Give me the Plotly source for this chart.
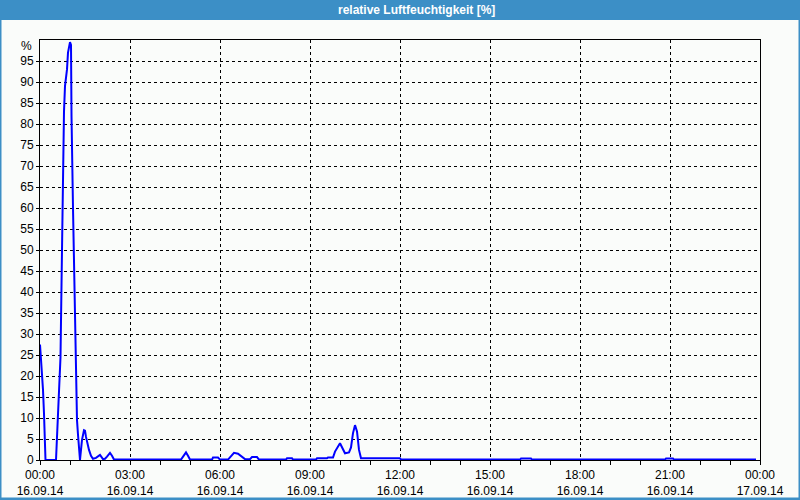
import pandas as pd
import plotly.graph_objects as go

# minutes after 16.09.14 00:00 and relative humidity [%]
minutes = [0, 2, 4, 6, 8, 10, 11, 32, 34, 36, 38, 41, 44, 46, 48, 50, 52, 54, 56, 58,
           60, 62, 63, 66, 68, 70, 72, 74, 76, 78, 80, 82, 84, 88, 90, 92, 94, 98, 102,
           106, 112, 116, 120, 126, 130, 134, 140, 144, 148,
           282, 288, 292, 296, 300, 344, 346, 356, 360, 376, 382, 388, 396, 402, 410,
           420, 424, 434, 438, 492, 494, 504, 506, 552, 554, 574, 576, 586, 590, 600,
           606, 610, 618, 622, 626, 630, 634, 638, 642, 720, 722,
           960, 962, 982, 984, 1250, 1252, 1266, 1268, 1432]
values = [27.5, 24, 22, 16.7, 11, 5.5, 0, 0, 5.5, 10, 17, 24.5, 50, 74, 83, 89, 90.5, 93, 97, 99,
          99.5, 98.8, 82, 60, 45, 31, 15, 9.5, 6, 3, 0, 2.4, 4.8, 7.1, 7, 5.5, 4.3, 2.4, 1,
          0.3, 0.5, 0.9, 1.2, 0.2, 0.3, 0.8, 1.7, 1, 0.1,
          0.1, 1.2, 1.8, 1.0, 0.1, 0.1, 0.6, 0.6, 0.1, 0.1, 1.0, 1.7, 1.5, 1.0, 0.2,
          0.2, 0.7, 0.7, 0.1, 0.1, 0.4, 0.4, 0.1, 0.1, 0.4, 0.4, 0.6, 0.6, 2, 4,
          2.5, 1.6, 1.8, 3, 6.4, 8.3, 6.8, 2.4, 0.4, 0.4, 0.1,
          0.1, 0.35, 0.35, 0.1, 0.1, 0.35, 0.35, 0.1, 0.1]

tick_times = ["00:00", "03:00", "06:00", "09:00", "12:00", "15:00", "18:00", "21:00", "00:00"]
tick_dates = ["16.09.14"] * 8 + ["17.09.14"]
y_ticks = list(range(0, 100, 5))
y_unit = "%"
title = "relative Luftfeuchtigkeit [%]"

start = pd.Timestamp("2014-09-16 00:00")
x = [start + pd.Timedelta(minutes=m) for m in minutes]
tickvals = [start + pd.Timedelta(hours=3 * i) for i in range(len(tick_times))]
ticktext = [f"{t}<br>{d}" for t, d in zip(tick_times, tick_dates)]

BLUE = "#3c8fc6"
BG = "#fafcfa"
FONT = "Liberation Sans, DejaVu Sans, sans-serif"

fig = go.Figure()
fig.add_trace(go.Scatter(x=x, y=values, mode="lines",
                         line=dict(color="#0000ff", width=2), hoverinfo="skip"))

fig.update_layout(
    width=800, height=500,
    margin=dict(l=40, r=40, t=40, b=40, autoexpand=False),
    paper_bgcolor=BG, plot_bgcolor=BG,
    showlegend=False,
    font=dict(family=FONT, size=12, color="black"),
    xaxis=dict(
        range=[start, start + pd.Timedelta(hours=24)],
        tickvals=tickvals, ticktext=ticktext, automargin=False,
        showline=True, linecolor="black", linewidth=1, mirror=True,
        showgrid=True, gridcolor="black", gridwidth=1, griddash="3px,3px",
        ticks="outside", ticklen=4, tickcolor="black",
        minor=dict(dtick=3600000, tick0=start, ticks="outside", ticklen=4,
                   tickcolor="black", showgrid=False),
        zeroline=False,
    ),
    yaxis=dict(
        range=[0, 100], automargin=False,
        tickvals=y_ticks,
        showline=True, linecolor="black", linewidth=1, mirror=True,
        showgrid=True, gridcolor="black", gridwidth=1, griddash="3px,3px",
        ticks="outside", ticklen=3, tickcolor="black",
        zeroline=False,
    ),
)

# title bar and frame (paper coords: plot spans 40..760 px, 40..460 px)
def px(xp):
    return (xp - 40) / 720.0

def py(yp):
    return (460 - yp) / 420.0

fig.add_shape(type="rect", xref="paper", yref="paper",
              x0=px(0), x1=px(800), y0=py(20), y1=py(0),
              fillcolor=BLUE, line=dict(width=0), layer="above")
for x0, x1, y0, y1 in [(0, 1.5, 0, 500), (798.5, 800, 0, 500), (0, 800, 497.5, 500)]:
    fig.add_shape(type="rect", xref="paper", yref="paper",
                  x0=px(x0), x1=px(x1), y0=py(y1), y1=py(y0),
                  fillcolor=BLUE, line=dict(width=0), layer="above")
fig.add_annotation(text=f"<b>{title}</b>", xref="paper", yref="paper",
                   x=px(416), y=py(10), showarrow=False,
                   font=dict(color="white", size=12, family=FONT),
                   xanchor="center", yanchor="middle")
fig.add_annotation(text=y_unit, xref="paper", yref="paper",
                   x=px(34), y=py(46), showarrow=False,
                   font=dict(color="black", size=12, family=FONT),
                   xanchor="right", yanchor="middle")

fig.write_html("out.html", config={"displayModeBar": False},
               post_script="document.body.style.margin='0';document.body.style.overflow='hidden';")
